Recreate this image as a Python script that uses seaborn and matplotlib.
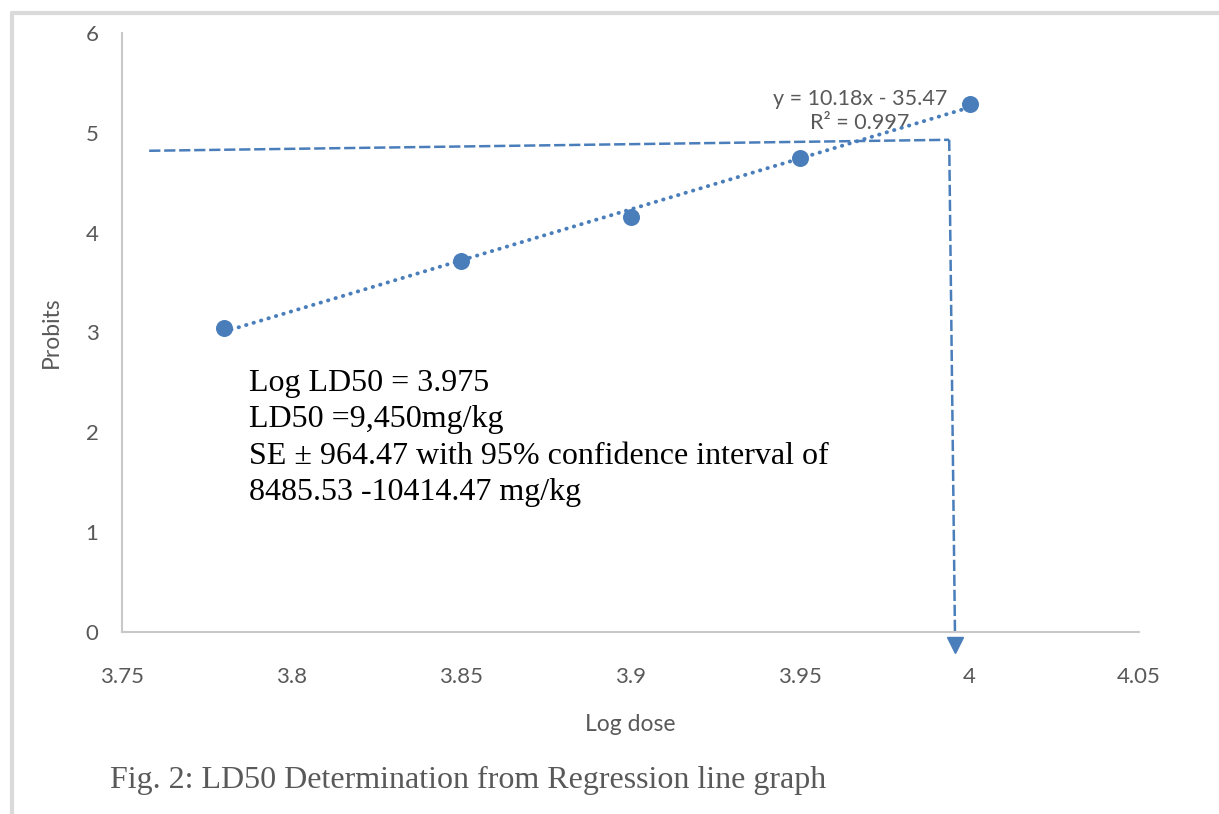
import numpy as np
import pandas as pd
import matplotlib
matplotlib.use("Agg")
import matplotlib.pyplot as plt
import seaborn as sns
from matplotlib.lines import Line2D

# Data
log_dose = [3.78, 3.85, 3.90, 3.95, 4.00]
probits = [3.04, 3.72, 4.16, 4.75, 5.29]
x_ticks = [3.75, 3.8, 3.85, 3.9, 3.95, 4.0, 4.05]
x_tick_labels = ["3.75", "3.8", "3.85", "3.9", "3.95", "4", "4.05"]
y_ticks = [0, 1, 2, 3, 4, 5, 6]
# guide (LD50) lines
guide_h_x = [3.758, 3.994]
guide_h_y = [4.82, 4.93]
guide_v_x = [3.994, 3.9957]
guide_v_y = [4.93, 0.0]
arrow_tip_y = -0.13
eq_text = "y = 10.18x - 35.47\nR² = 0.997"
info_lines = ["Log LD50 = 3.975", "LD50 =9,450mg/kg",
              "SE ± 964.47 with 95% confidence interval of",
              "8485.53 -10414.47 mg/kg"]
caption = "Fig. 2: LD50 Determination from Regression line graph"

sns.set_style("white")
plt.rcParams['font.family'] = ['Lato', 'DejaVu Sans']

blue = "#4A7EBB"
gray_txt = "#595959"

fig = plt.figure(figsize=(12.19, 8.14), dpi=100)
ax = fig.add_axes([0.1001, 0.2236, 0.8343, 0.7359])

df = pd.DataFrame({"Log dose": log_dose, "Probits": probits})

# trendline
coef = np.polyfit(log_dose, probits, 1)
tx = np.array([log_dose[0], log_dose[-1]])
ax.plot(tx, np.polyval(coef, tx), color=blue, lw=2.8,
        linestyle=(0, (0.1, 1.9)), dash_capstyle="round", zorder=2)

sns.scatterplot(data=df, x="Log dose", y="Probits", ax=ax, color=blue,
                s=150, edgecolor=blue, linewidth=0, zorder=3)

# guide lines
dash = (0, (4.5, 1.5))
ax.plot(guide_h_x, guide_h_y, color=blue, lw=1.8, linestyle=dash, zorder=2)
ax.plot(guide_v_x, guide_v_y, color=blue, lw=1.8, linestyle=dash,
        zorder=2, clip_on=False)
ax.plot([guide_v_x[1]], [arrow_tip_y], marker="v", markersize=11,
        color=blue, clip_on=False, zorder=4)

ax.set_xlim(3.75, 4.05)
ax.set_ylim(0, 6)
ax.set_xticks(x_ticks)
ax.set_xticklabels(x_tick_labels)
ax.set_yticks(y_ticks)
ax.tick_params(axis="both", length=0, labelsize=16, colors=gray_txt)
ax.tick_params(axis="x", pad=25)
ax.tick_params(axis="y", pad=17)

for s in ["top", "right"]:
    ax.spines[s].set_visible(False)
for s in ["left", "bottom"]:
    ax.spines[s].set_color("#C8C8C8")
    ax.spines[s].set_linewidth(1.5)

ax.set_xlabel("Log dose", fontsize=16.5, color=gray_txt, labelpad=20)
ax.set_ylabel("Probits", fontsize=16.5, color=gray_txt, labelpad=17)

ax.text(3.9677, 5.22, eq_text, fontsize=15.5, color=gray_txt, ha="center",
        va="center", linespacing=1.25, zorder=1)

serif = ['Liberation Serif', 'DejaVu Serif']
for i, line in enumerate(info_lines):
    fig.text(249 / 1219, 1 - (383 + i * 36.5) / 814, line, family=serif,
             fontsize=23, color="black", ha="left", va="center")

fig.text(110 / 1219, 1 - 780 / 814, caption, family=serif, fontsize=23,
         color=gray_txt, ha="left", va="center")

# light frame
fig.add_artist(Line2D([11.5 / 1219, 1.0], [1 - 13 / 814, 1 - 13 / 814],
                      transform=fig.transFigure, color="#DADADA", lw=3))
fig.add_artist(Line2D([11.5 / 1219, 11.5 / 1219], [0, 1 - 13 / 814],
                      transform=fig.transFigure, color="#DADADA", lw=3))

fig.savefig("out.png", dpi=100, facecolor="white")
